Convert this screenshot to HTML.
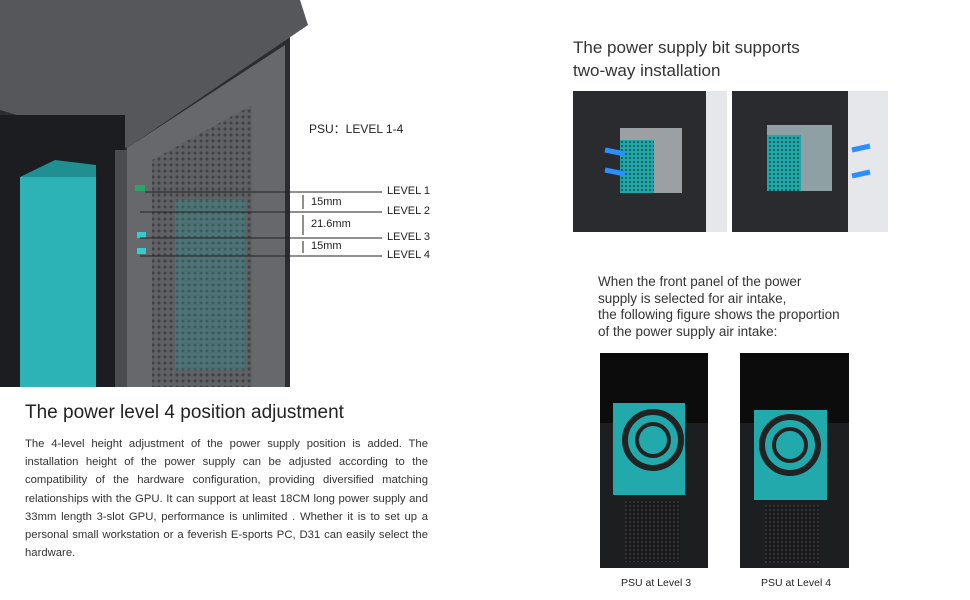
<!DOCTYPE html>
<html><head><meta charset="utf-8"><style>
body{margin:0;width:970px;height:600px;background:#fff;position:relative;overflow:hidden;font-family:"Liberation Sans",sans-serif;color:#222}
.t{position:absolute;white-space:nowrap}
</style></head><body>
<svg width="970" height="600" style="position:absolute;left:0;top:0">
<defs>
<pattern id="dots" width="6" height="6" patternUnits="userSpaceOnUse"><rect width="6" height="6" fill="#5f6165"/><circle cx="3" cy="3" r="1.5" fill="#3e4044"/></pattern>
<pattern id="tdots" width="4" height="4" patternUnits="userSpaceOnUse"><rect width="4" height="4" fill="#1fa6a6"/><circle cx="2" cy="2" r="1" fill="#0e4c50"/></pattern>
<pattern id="grid" width="4" height="4" patternUnits="userSpaceOnUse"><rect width="4" height="4" fill="#1a1a1c"/><circle cx="2" cy="2" r="1" fill="#3a3a3c"/></pattern>
</defs>
<rect x="0" y="0" width="290" height="387" fill="#2b2c2f"/>
<polygon points="0,0 300,0 308,25 127,148 0,110" fill="#55575b"/>
<polygon points="127,148 285,45 285,387 127,387" fill="#66686c"/>
<polygon points="152,160 252,105 252,387 152,387" fill="url(#dots)"/>
<rect x="175" y="200" width="70" height="170" fill="#1fa6a6" opacity="0.25"/>
<rect x="0" y="115" width="125" height="272" fill="#1c1d20"/>
<rect x="20" y="177" width="76" height="210" fill="#2bb3b6"/>
<polygon points="20,177 55,160 96,165 96,177" fill="#1f8f92"/>
<rect x="115" y="150" width="12" height="237" fill="#4a4c50"/>
<rect x="135" y="185" width="10" height="6" fill="#2a6"/>
<rect x="137" y="248" width="9" height="6" fill="#3cc"/>
<rect x="137" y="232" width="9" height="6" fill="#3cc"/>
<g stroke="#222" stroke-width="1">
<line x1="145" y1="192" x2="382" y2="192"/>
<line x1="140" y1="212" x2="382" y2="212"/>
<line x1="140" y1="238" x2="382" y2="238"/>
<line x1="140" y1="256" x2="382" y2="256"/>
<line x1="303" y1="195" x2="303" y2="209"/>
<line x1="303" y1="215" x2="303" y2="235"/>
<line x1="303" y1="241" x2="303" y2="253"/>
</g>
<rect x="573" y="91" width="154" height="141" fill="#e6e7ea"/>
<rect x="573" y="91" width="133" height="141" fill="#2a2b2e"/>
<rect x="620" y="128" width="62" height="65" fill="#9aa0a4"/>
<rect x="620" y="140" width="34" height="53" fill="url(#tdots)"/>
<path d="M605 150 l20 4 M605 170 l20 4" stroke="#2b8fff" stroke-width="5"/>
<rect x="732" y="91" width="156" height="141" fill="#e6e7ea"/>
<rect x="732" y="91" width="116" height="141" fill="#2a2b2e"/>
<rect x="767" y="125" width="65" height="66" fill="#8fa0a4"/>
<rect x="767" y="135" width="34" height="56" fill="url(#tdots)"/>
<path d="M870 146 l-18 4 M870 172 l-18 4" stroke="#2b8fff" stroke-width="5"/>
<g>
<rect x="600" y="353" width="108" height="215" fill="#1d1e20"/>
<rect x="600" y="353" width="108" height="70" fill="#0c0c0d"/>
<rect x="613" y="403" width="72" height="92" fill="#22a9ab"/>
<circle cx="653" cy="440" r="28" fill="none" stroke="#222" stroke-width="6"/>
<circle cx="653" cy="440" r="16" fill="none" stroke="#222" stroke-width="4"/>
<rect x="625" y="500" width="55" height="62" fill="url(#grid)"/>
<rect x="740" y="353" width="109" height="215" fill="#1d1e20"/>
<rect x="740" y="353" width="109" height="70" fill="#0c0c0d"/>
<rect x="754" y="410" width="73" height="90" fill="#22a9ab"/>
<circle cx="790" cy="445" r="28" fill="none" stroke="#222" stroke-width="6"/>
<circle cx="790" cy="445" r="16" fill="none" stroke="#222" stroke-width="4"/>
<rect x="765" y="505" width="55" height="58" fill="url(#grid)"/>
</g>
</svg>
<div class="t" style="left:309px;top:120px;font-size:12px">PSU：LEVEL 1-4</div>
<div class="t" style="left:387px;top:185px;font-size:11px">LEVEL 1</div>
<div class="t" style="left:387px;top:205px;font-size:11px">LEVEL 2</div>
<div class="t" style="left:387px;top:231px;font-size:11px">LEVEL 3</div>
<div class="t" style="left:387px;top:249px;font-size:11px">LEVEL 4</div>
<div class="t" style="left:311px;top:196px;font-size:11px">15mm</div>
<div class="t" style="left:311px;top:218px;font-size:11px">21.6mm</div>
<div class="t" style="left:311px;top:240px;font-size:11px">15mm</div>
<div class="t" style="left:25px;top:402px;font-size:19px;color:#222">The power level 4 position adjustment</div>
<div style="position:absolute;left:25px;top:435px;width:403px;font-size:11.3px;line-height:18.2px;text-align:justify;color:#333">The 4-level height adjustment of the power supply position is added. The installation height of the power supply can be adjusted according to the compatibility of the hardware configuration, providing diversified matching relationships with the GPU. It can support at least 18CM long power supply and 33mm length 3-slot GPU, performance is unlimited . Whether it is to set up a personal small workstation or a feverish E-sports PC, D31 can easily select the hardware.</div>
<div class="t" style="left:573px;top:36px;font-size:17px;line-height:23px;color:#333">The power supply bit supports<br>two-way installation</div>
<div class="t" style="left:598px;top:274px;font-size:13.5px;line-height:16.5px;color:#333">When the front panel of the power<br>supply is selected for air intake,<br>the following figure shows the proportion<br>of the power supply air intake:</div>
<div class="t" style="left:621px;top:577px;font-size:10.5px">PSU at Level 3</div>
<div class="t" style="left:761px;top:577px;font-size:10.5px">PSU at Level 4</div>
</body></html>
